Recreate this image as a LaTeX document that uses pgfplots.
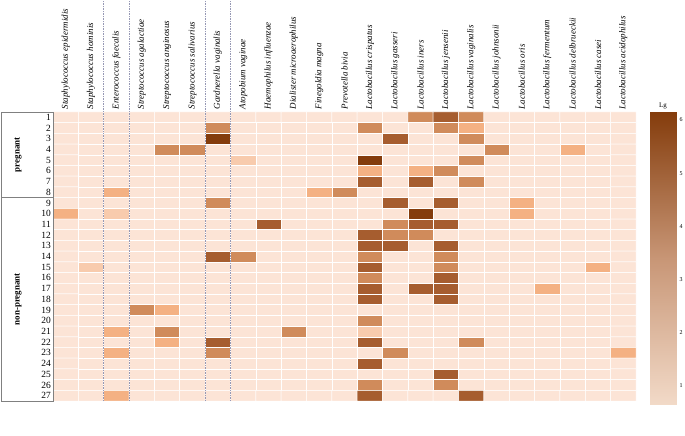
\documentclass[border=0pt]{standalone}
\usepackage{pgfplots}
\pgfplotsset{compat=1.18}
\usepackage{fontspec}
\setmainfont{Liberation Serif}
\definecolor{dashcol}{RGB}{150,152,180}
\definecolor{boxcol}{RGB}{128,128,128}
\begin{document}
\begin{tikzpicture}
\useasboundingbox (0,0) rectangle (685bp,436bp);
\begin{axis}[
  at={(53bp,35bp)}, anchor=south west,
  width=583bp, height=289bp, scale only axis,
  xmin=-0.5, xmax=22.5, ymin=0.5, ymax=27.5,
  axis line style={draw=none},
  major tick length=0pt,
  xtick={0,...,22},
  xticklabels={Staphylococcus epidermidis,Staphylococcus hominis,Enterococcus faecalis,Streptococcus agalactiae,Streptococcus anginosus,Streptococcus salivarius,Gardnerella vaginalis,Atopobium vaginae,Haemophilus influenzae,Dialister microaerophilus,Finegoldia magna,Prevotella bivia,Lactobacillus  crispatus,Lactobacillus gasseri,Lactobacillus  iners,Lactobacillus  jensenii,Lactobacillus vaginalis,Lactobacillus johnsonii,Lactobacillus oris,Lactobacillus fermentum,Lactobacillus delbrueckii,Lactobacillus casei,Lactobacillus acidophilus},
  xticklabel pos=upper,
  xticklabel style={rotate=90, anchor=west, font=\fontsize{9}{10}\selectfont\itshape, inner sep=2.5pt},
  ytick={1,...,27},
  yticklabels={27,26,25,24,23,22,21,20,19,18,17,16,15,14,13,12,11,10,9,8,7,6,5,4,3,2,1},
  yticklabel style={font=\fontsize{9.5}{10}\selectfont, inner sep=2pt},
  /pgf/number format/assume math mode=true,
  colormap={lv}{rgb255=(252,228,214) rgb255=(248,203,173) rgb255=(244,177,131) rgb255=(208,139,91) rgb255=(166,93,47) rgb255=(132,60,12)},
  colormap access=direct,
  clip=false,
]
\addplot[matrix plot*, mesh/cols=23, point meta=explicit, shader=faceted, faceted color=white, line width=0.5pt]
 table[row sep=\\, x expr={\coordindex-23*floor((\coordindex+0.5)/23)}, y expr={27-floor((\coordindex+0.5)/23)}, meta=c] {
c\\
0\\0\\0\\0\\0\\0\\0\\0\\0\\0\\0\\0\\0\\0\\3\\4\\3\\0\\0\\0\\0\\0\\0\\
0\\0\\0\\0\\0\\0\\3\\0\\0\\0\\0\\0\\3\\0\\0\\3\\2\\0\\0\\0\\0\\0\\0\\
0\\0\\0\\0\\0\\0\\5\\0\\0\\0\\0\\0\\0\\4\\0\\0\\3\\0\\0\\0\\0\\0\\0\\
0\\0\\0\\0\\3\\3\\0\\0\\0\\0\\0\\0\\0\\0\\0\\0\\0\\3\\0\\0\\2\\0\\0\\
0\\0\\0\\0\\0\\0\\0\\1\\0\\0\\0\\0\\5\\0\\0\\0\\3\\0\\0\\0\\0\\0\\0\\
0\\0\\0\\0\\0\\0\\0\\0\\0\\0\\0\\0\\2\\0\\2\\3\\0\\0\\0\\0\\0\\0\\0\\
0\\0\\0\\0\\0\\0\\0\\0\\0\\0\\0\\0\\4\\0\\4\\0\\3\\0\\0\\0\\0\\0\\0\\
0\\0\\2\\0\\0\\0\\0\\0\\0\\0\\2\\3\\0\\0\\0\\0\\0\\0\\0\\0\\0\\0\\0\\
0\\0\\0\\0\\0\\0\\3\\0\\0\\0\\0\\0\\0\\4\\0\\4\\0\\0\\2\\0\\0\\0\\0\\
2\\0\\1\\0\\0\\0\\0\\0\\0\\0\\0\\0\\0\\0\\5\\0\\0\\0\\2\\0\\0\\0\\0\\
0\\0\\0\\0\\0\\0\\0\\0\\4\\0\\0\\0\\0\\3\\4\\4\\0\\0\\0\\0\\0\\0\\0\\
0\\0\\0\\0\\0\\0\\0\\0\\0\\0\\0\\0\\4\\3\\3\\0\\0\\0\\0\\0\\0\\0\\0\\
0\\0\\0\\0\\0\\0\\0\\0\\0\\0\\0\\0\\4\\4\\0\\4\\0\\0\\0\\0\\0\\0\\0\\
0\\0\\0\\0\\0\\0\\4\\3\\0\\0\\0\\0\\3\\0\\0\\3\\0\\0\\0\\0\\0\\0\\0\\
0\\1\\0\\0\\0\\0\\0\\0\\0\\0\\0\\0\\4\\0\\0\\3\\0\\0\\0\\0\\0\\2\\0\\
0\\0\\0\\0\\0\\0\\0\\0\\0\\0\\0\\0\\3\\0\\0\\4\\0\\0\\0\\0\\0\\0\\0\\
0\\0\\0\\0\\0\\0\\0\\0\\0\\0\\0\\0\\4\\0\\4\\4\\0\\0\\0\\2\\0\\0\\0\\
0\\0\\0\\0\\0\\0\\0\\0\\0\\0\\0\\0\\4\\0\\0\\4\\0\\0\\0\\0\\0\\0\\0\\
0\\0\\0\\3\\2\\0\\0\\0\\0\\0\\0\\0\\0\\0\\0\\0\\0\\0\\0\\0\\0\\0\\0\\
0\\0\\0\\0\\0\\0\\0\\0\\0\\0\\0\\0\\3\\0\\0\\0\\0\\0\\0\\0\\0\\0\\0\\
0\\0\\2\\0\\3\\0\\0\\0\\0\\3\\0\\0\\1\\0\\0\\0\\0\\0\\0\\0\\0\\0\\0\\
0\\0\\0\\0\\2\\0\\4\\0\\0\\0\\0\\0\\4\\0\\0\\0\\3\\0\\0\\0\\0\\0\\0\\
0\\0\\2\\0\\0\\0\\3\\0\\0\\0\\0\\0\\0\\3\\0\\0\\0\\0\\0\\0\\0\\0\\2\\
0\\0\\0\\0\\0\\0\\0\\0\\0\\0\\0\\0\\4\\0\\0\\0\\0\\0\\0\\0\\0\\0\\0\\
0\\0\\0\\0\\0\\0\\0\\0\\0\\0\\0\\0\\0\\0\\0\\4\\0\\0\\0\\0\\0\\0\\0\\
0\\0\\0\\0\\0\\0\\0\\0\\0\\0\\0\\0\\3\\0\\0\\3\\0\\0\\0\\0\\0\\0\\0\\
0\\0\\2\\0\\0\\0\\0\\0\\0\\0\\0\\0\\4\\0\\0\\0\\4\\0\\0\\0\\0\\0\\0\\
};
\draw[dashcol, dash pattern=on 1.5pt off 1pt, line width=0.6pt] (axis cs:1.5,0.5) -- (axis cs:1.5,37.9);
\draw[dashcol, dash pattern=on 1.5pt off 1pt, line width=0.6pt] (axis cs:2.5,0.5) -- (axis cs:2.5,37.9);
\draw[dashcol, dash pattern=on 1.5pt off 1pt, line width=0.6pt] (axis cs:5.5,0.5) -- (axis cs:5.5,37.9);
\draw[dashcol, dash pattern=on 1.5pt off 1pt, line width=0.6pt] (axis cs:6.5,0.5) -- (axis cs:6.5,37.9);
\draw[boxcol, line width=0.9pt] (axis cs:-2.55,27.5) rectangle (axis cs:-0.5,19.5);
\draw[boxcol, line width=0.9pt] (axis cs:-2.55,19.5) rectangle (axis cs:-0.5,0.5);
\node[rotate=90, font=\fontsize{9}{10}\selectfont\bfseries] at (axis cs:-1.88,23.5) {pregnant};
\node[rotate=90, font=\fontsize{9}{10}\selectfont\bfseries] at (axis cs:-1.88,10) {non-pregnant};
\end{axis}
\begin{axis}[
  at={(650bp,31bp)}, anchor=south west,
  width=26bp, height=293bp, scale only axis,
  xmin=0, xmax=1, ymin=0.64, ymax=6.15,
  axis line style={draw=none},
  major tick length=0pt,
  xtick=\empty,
  ytick={1,...,6},
  yticklabel pos=right,
  yticklabel style={font=\fontsize{6}{7}\selectfont, inner sep=2pt, xshift=1.5pt},
  /pgf/number format/assume math mode=true,
  title=Lg,
  title style={font=\fontsize{7}{8}\selectfont, inner sep=1pt, yshift=-4pt},
  colormap={cb}{rgb255=(242,218,200) rgb255=(200,150,118) rgb255=(132,60,12)},
  point meta min=0.64, point meta max=6.15,
]
\addplot[patch, patch type=rectangle, shader=interp, point meta=explicit]
 coordinates {(0,0.64) [0.64] (1,0.64) [0.64] (1,6.15) [6.15] (0,6.15) [6.15]};
\end{axis}
\end{tikzpicture}
\end{document}
